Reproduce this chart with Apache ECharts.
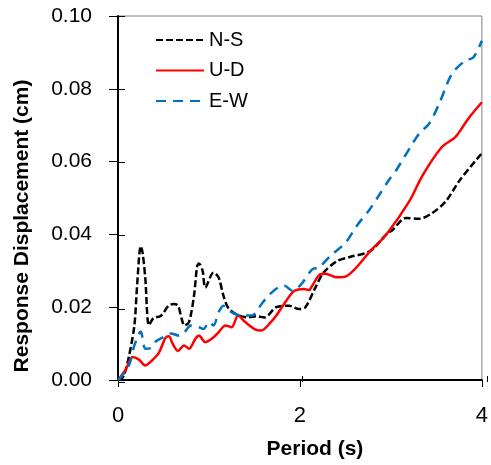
<!DOCTYPE html>
<html>
<head>
<meta charset="utf-8">
<script src="https://cdn.jsdelivr.net/npm/echarts@6/dist/echarts.min.js"></script>
<style>
  html, body { margin: 0; padding: 0; background: #fff; }
  #chart { width: 491px; height: 465px; }
</style>
</head>
<body>
<div id="chart"></div>
<script>
// period (s), displacement (cm)
const nsData = [
  [0, 0], [0.06, 0.001], [0.12, 0.0065], [0.18, 0.015], [0.21, 0.026], [0.25, 0.0368],
  [0.27, 0.035], [0.30, 0.028], [0.34, 0.015], [0.39, 0.017], [0.47, 0.0176],
  [0.556, 0.0204], [0.61, 0.0209], [0.66, 0.0204], [0.70, 0.0168], [0.73, 0.015],
  [0.78, 0.0159], [0.835, 0.0231], [0.87, 0.0313], [0.89, 0.032], [0.93, 0.030],
  [0.96, 0.0254], [1.05, 0.0295], [1.105, 0.0282], [1.16, 0.0231], [1.214, 0.0197],
  [1.32, 0.0178], [1.43, 0.0172], [1.52, 0.0175], [1.61, 0.0172], [1.74, 0.020],
  [1.88, 0.0204], [1.99, 0.0195], [2.06, 0.020], [2.17, 0.0254], [2.26, 0.0295],
  [2.41, 0.0327], [2.55, 0.0338], [2.77, 0.0354], [2.95, 0.040], [3.02, 0.0413],
  [3.165, 0.0445], [3.31, 0.0443], [3.455, 0.0459], [3.6, 0.049], [3.76, 0.055], [4.0, 0.0623]
];
const udData = [
  [0, 0], [0.087, 0.003], [0.16, 0.0063], [0.23, 0.0056], [0.30, 0.004], [0.375, 0.0054],
  [0.45, 0.0075], [0.52, 0.0115], [0.56, 0.012], [0.60, 0.010], [0.66, 0.008],
  [0.726, 0.0095], [0.78, 0.0086], [0.85, 0.0113], [0.89, 0.0122], [0.96, 0.0104],
  [1.03, 0.0113], [1.105, 0.0131], [1.18, 0.015], [1.25, 0.0145], [1.32, 0.0177],
  [1.395, 0.016], [1.50, 0.014], [1.575, 0.0136], [1.68, 0.0159], [1.74, 0.0177],
  [1.85, 0.0218], [1.94, 0.0245], [2.045, 0.025], [2.10, 0.0247], [2.135, 0.0259],
  [2.225, 0.0291], [2.28, 0.0292], [2.41, 0.0282], [2.50, 0.0284], [2.79, 0.0359],
  [2.95, 0.040], [3.2, 0.049], [3.35, 0.0563], [3.56, 0.064], [3.71, 0.0668],
  [3.85, 0.0718], [4.0, 0.0763]
];
const ewData = [
  [0, 0], [0.02, 0.0004], [0.12, 0.004], [0.18, 0.0095], [0.25, 0.0133], [0.30, 0.0086],
  [0.36, 0.0088], [0.41, 0.0105], [0.50, 0.0118], [0.58, 0.0128], [0.67, 0.0122],
  [0.73, 0.0131], [0.80, 0.015], [0.89, 0.0145], [0.94, 0.014], [1.0, 0.0159],
  [1.05, 0.015], [1.105, 0.0186], [1.16, 0.0204], [1.25, 0.0186], [1.36, 0.0177],
  [1.47, 0.0177], [1.59, 0.0213], [1.67, 0.0236], [1.76, 0.0254], [1.83, 0.0259],
  [1.92, 0.0245], [1.97, 0.0252], [2.03, 0.0268], [2.135, 0.0304], [2.21, 0.0309],
  [2.33, 0.034], [2.50, 0.0377], [2.62, 0.0422], [2.77, 0.047], [2.85, 0.050],
  [2.98, 0.055], [3.06, 0.0577], [3.31, 0.0677], [3.42, 0.0704], [3.53, 0.0759],
  [3.67, 0.0841], [3.815, 0.0877], [3.905, 0.0886], [4.0, 0.0932]
];
const seriesNames = ['N-S', 'U-D', 'E-W'];
const xTicks = { min: 0, max: 4, step: 2 };
const yTicks = { min: 0, max: 0.1, step: 0.02 };

const font = 'Liberation Sans, Arial, sans-serif';
const chart = echarts.init(document.getElementById('chart'));

const gridBox = { left: 118, right: 4, top: 16, bottom: 83 };

const option = {
  animation: false,
  grid: [
    Object.assign({ show: true, borderColor: '#7f7f7f', borderWidth: 1 }, gridBox),
    // twin grid only carries the inward half of the crossing ticks
    Object.assign({ show: false }, gridBox)
  ],
  legend: {
    orient: 'vertical',
    left: 150, top: 25,
    itemWidth: 48, itemHeight: 14, itemGap: 10.5,
    data: seriesNames,
    itemStyle: { color: 'rgba(0,0,0,0)', borderWidth: 0 },
    textStyle: { fontFamily: font, fontSize: 20, color: '#000' }
  },
  xAxis: [{
    gridIndex: 0, type: 'value', position: 'bottom',
    min: xTicks.min, max: xTicks.max, interval: xTicks.step,
    name: 'Period (s)', nameLocation: 'middle', nameGap: 59,
    nameTextStyle: { fontFamily: font, fontSize: 21, fontWeight: 'bold', color: '#000', padding: [0, 0, 0, 30] },
    axisLine: { lineStyle: { color: '#000', width: 2 } },
    axisTick: { inside: false, length: 7, lineStyle: { color: '#000', width: 1 } },
    axisLabel: { margin: 25, fontFamily: font, fontSize: 22, color: '#000' },
    splitLine: { show: false }
  }, {
    gridIndex: 1, type: 'value', position: 'bottom',
    min: xTicks.min, max: xTicks.max, interval: xTicks.step,
    axisLine: { show: false },
    axisTick: { show: true, inside: true, length: 6, lineStyle: { color: '#000', width: 1 } },
    axisLabel: { show: false },
    splitLine: { show: false }
  }],
  yAxis: [{
    gridIndex: 0, type: 'value', position: 'left',
    min: yTicks.min, max: yTicks.max, interval: yTicks.step,
    name: 'Response Displacement (cm)', nameLocation: 'middle', nameGap: 85,
    nameTextStyle: { fontFamily: font, fontSize: 21, fontWeight: 'bold', color: '#000', padding: [0, 56, 0, 0] },
    axisLine: { show: true, lineStyle: { color: '#000', width: 2 } },
    axisTick: { show: true, inside: false, length: 9, lineStyle: { color: '#000', width: 1 } },
    axisLabel: { margin: 26, fontFamily: font, fontSize: 21, color: '#000', formatter: v => v.toFixed(2) },
    splitLine: { show: false }
  }, {
    gridIndex: 1, type: 'value', position: 'left',
    min: yTicks.min, max: yTicks.max, interval: yTicks.step,
    axisLine: { show: false },
    axisTick: { show: true, inside: true, length: 7, lineStyle: { color: '#000', width: 1 } },
    axisLabel: { show: false },
    splitLine: { show: false }
  }],
  series: [
    {
      name: seriesNames[0], type: 'line', data: nsData, smooth: 0.3,
      symbol: 'none', color: '#000000',
      lineStyle: { color: '#000000', width: 2.5, type: [7, 3] }
    },
    {
      name: seriesNames[1], type: 'line', data: udData, smooth: 0.3,
      symbol: 'none', color: '#ff0000',
      lineStyle: { color: '#ff0000', width: 2.5 }
    },
    {
      name: seriesNames[2], type: 'line', data: ewData, smooth: 0.3,
      symbol: 'none', color: '#0070c0',
      lineStyle: { color: '#0070c0', width: 2.5, type: [10, 7] }
    }
  ]
};

chart.setOption(option);
</script>
</body>
</html>
